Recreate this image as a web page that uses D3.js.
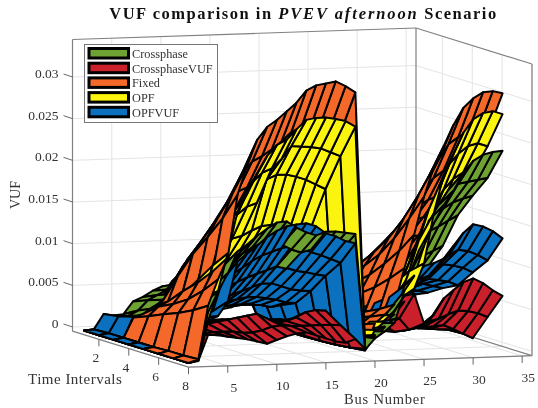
<!DOCTYPE html>
<html>
<head>
<meta charset="utf-8">
<style>
  html, body { margin: 0; padding: 0; background: #fff; }
  text { font-family: "Liberation Serif", serif; fill: #333; }
  svg { filter: blur(0.4px); }
</style>
</head>
<body>
<div id="chart"></div>
<script src="https://cdn.jsdelivr.net/npm/d3@7"></script>
<script>
var timeIntervals = [1, 2, 3, 4, 5, 6, 7, 8];
var busNumbers = [1, 2, 3, 4, 5, 6, 7, 8, 9, 10, 11, 12, 13, 14, 15, 16, 17, 18, 19, 20, 21, 22, 23, 24, 25, 26, 27, 28, 29, 30, 31, 32, 33];
var busTicks = [5, 10, 15, 20, 25, 30, 35];
var timeTicks = [2, 4, 6, 8];
var vufTicks = [0, 0.005, 0.01, 0.015, 0.02, 0.025, 0.03];
var vufTickLabels = ["0", "0.005", "0.01", "0.015", "0.02", "0.025", "0.03"];
var seriesNames = ["Crossphase", "CrossphaseVUF", "Fixed", "OPF", "OPFVUF"];
var seriesColors = ["#6ea232", "#c9202b", "#f4692a", "#fbf40f", "#0b70bd"];

// VUF x 10000, one row per bus, one column per time interval
var crossphase = [
  [0,0,0,0,0,0,0,0],[1,1,2,2,2,2,3,3],[12,14,18,22,28,36,46,60],[17,22,28,34,42,52,66,84],
  [18,28,36,42,52,66,84,106],[33,40,46,56,68,86,108,132],[38,46,52,60,74,92,115,140],[45,52,57,65,79,99,123,150],
  [50,58,62,70,85,105,130,158],[46,52,60,72,87,108,135,165],[44,50,58,70,88,110,137,166],[42,48,56,68,84,106,132,158],
  [40,46,54,66,80,100,126,152],[38,44,52,62,76,97,122,148],[38,44,52,62,78,100,125,152],[38,44,52,62,78,100,125,152],
  [38,42,50,60,76,98,123,150],[37,42,50,60,74,96,122,148],[1,1,2,2,3,4,6,9],[3,5,7,10,13,16,19,22],
  [4,6,9,13,18,22,25,30],[5,8,12,18,24,29,34,40],[6,8,10,14,20,30,50,78],[7,9,12,17,25,40,72,95],
  [8,10,14,20,30,50,90,131],[9,12,16,24,36,72,120,158],[10,14,18,28,49,96,155,179],[12,16,22,36,66,126,173,196],
  [14,18,28,66,108,155,191,217],[18,28,48,84,130,163,198,231],[22,38,62,95,135,170,200,238],[27,44,70,100,142,174,202,241],
  [30,50,75,106,148,177,204,242]
];
var crossphaseVuf = [
  [0,0,0,0,0,0,0,0],[1,1,1,2,2,2,2,2],[6,7,8,10,12,18,26,33],[8,9,11,13,16,24,28,32],
  [8,10,13,15,19,30,30,30],[8,10,14,17,21,34,30,28],[8,10,15,18,23,36,30,26],[8,10,16,19,26,38,28,23],
  [8,10,16,20,28,40,28,20],[8,10,17,21,30,42,30,24],[8,10,18,22,30,44,34,28],[8,10,18,22,28,38,35,31],
  [8,10,18,22,26,32,34,32],[8,10,18,21,26,34,34,28],[8,10,18,20,28,38,34,24],[8,10,18,20,30,44,34,20],
  [8,10,18,20,30,46,34,18],[8,10,18,20,28,45,33,22],[2,2,2,3,3,4,6,10],[4,5,6,7,9,12,18,25],
  [5,6,7,9,12,16,24,35],[6,7,8,10,14,20,32,54],[6,7,9,11,16,24,40,72],[6,7,9,12,17,25,39,74],
  [6,7,8,10,13,17,25,38],[6,7,8,10,13,18,28,48],[6,7,9,11,15,20,34,67],[6,7,9,11,15,22,37,77],
  [6,7,8,11,14,22,42,86],[6,7,8,11,13,23,46,90],[6,7,8,10,12,18,45,84],[5,6,7,9,11,12,42,75],
  [5,6,7,11,10,6,37,68]
];
var fixed = [
  [0,0,0,0,0,0,0,0],[1,1,2,2,2,3,3,4],[15,20,26,33,41,48,57,68],[12,18,30,44,53,64,80,99],
  [16,22,38,50,68,84,103,125],[20,28,45,80,112,138,166,200],[26,38,65,100,129,160,195,235],[32,50,85,115,146,180,220,265],
  [40,68,100,127,155,191,233,280],[56,78,104,130,158,196,239,288],[60,80,107,134,164,203,247,298],[60,83,111,139,169,209,256,308],
  [60,87,116,145,177,219,267,322],[60,89,118,148,180,223,272,328],[60,89,119,149,182,224,274,330],[60,90,120,149,183,226,276,332],
  [59,88,117,147,179,222,271,326],[57,86,114,143,175,216,264,318],[2,3,4,5,6,8,9,11],[8,11,14,18,22,27,33,40],
  [10,14,18,23,28,34,42,50],[12,17,22,28,34,42,51,62],[19,28,38,47,58,71,87,105],[26,39,52,65,80,99,120,145],
  [34,51,68,85,104,129,158,190],[40,61,81,101,124,153,187,225],[44,68,90,113,138,170,208,250],[48,74,99,124,151,187,228,275],
  [49,79,108,138,161,200,246,295],[53,83,110,138,168,208,254,306],[55,85,113,141,172,213,260,313],[55,85,113,141,173,214,261,314],
  [55,84,112,140,171,211,258,311]
];
var opf = [
  [0,0,0,0,0,0,0,0],[1,1,1,2,2,2,3,3],[5,8,13,19,25,33,42,50],[8,13,21,31,42,57,72,85],
  [12,20,33,48,65,87,110,130],[16,27,45,67,90,120,153,180],[18,30,50,74,100,134,171,201],[20,34,56,83,112,150,190,224],
  [22,37,61,90,122,164,208,245],[23,39,65,95,129,173,219,258],[20,40,66,98,132,177,224,264],[20,41,69,102,138,205,235,276],
  [18,43,72,106,143,210,250,287],[18,43,72,107,144,210,249,289],[20,43,72,107,144,207,248,289],[22,43,72,106,143,203,246,287],
  [26,42,71,105,142,197,241,284],[28,41,69,102,138,191,236,277],[1,2,3,4,5,7,8,10],[4,7,10,14,18,23,27,32],
  [5,9,13,18,24,30,36,42],[6,11,16,22,28,36,43,50],[6,9,13,20,28,38,50,65],[6,10,15,22,32,45,62,80],
  [8,12,18,30,50,75,95,110],[8,10,15,25,40,84,132,170],[10,13,20,32,60,114,168,215],[14,18,26,54,90,138,191,240],
  [18,25,36,84,119,167,221,265],[24,35,50,100,135,185,234,281],[30,45,65,112,150,198,243,288],[34,55,80,120,158,205,246,290],
  [35,60,89,122,160,205,242,286]
];
var opfVuf = [
  [0,0,0,0,0,0,0,0],[1,2,2,2,2,2,2,3],[19,22,27,30,35,40,45,50],[14,17,20,25,30,38,48,55],
  [14,16,20,25,32,42,55,72],[16,20,26,34,46,66,92,120],[18,22,28,37,50,72,99,129],[19,23,30,40,54,77,106,138],
  [20,25,32,43,58,83,114,148],[21,26,33,45,62,88,120,155],[22,27,35,48,66,92,124,160],[23,28,36,50,70,96,128,162],
  [24,29,37,52,74,100,130,163],[26,30,38,52,74,98,128,159],[28,30,38,50,70,94,122,150],[30,31,36,48,66,92,118,146],
  [30,31,33,44,64,89,113,140],[30,31,35,43,63,87,108,137],[1,1,2,2,3,4,6,8],[5,6,8,10,12,16,20,26],
  [7,9,12,14,17,22,28,36],[9,12,14,18,21,28,35,45],[17,22,27,34,40,52,65,84],[19,25,31,38,45,60,74,96],
  [21,28,34,43,50,66,82,107],[22,29,35,44,52,68,85,110],[23,30,37,46,54,71,89,115],[26,34,42,52,61,81,100,130],
  [29,38,46,58,68,90,112,145],[31,40,50,62,73,96,119,155],[30,40,49,61,71,94,117,152],[29,38,47,58,69,91,112,146],
  [28,36,44,55,64,85,105,137]
];
var seriesValues = [crossphase, crossphaseVuf, fixed, opf, opfVuf];

var width = 538, height = 408;
var busMax = 36, timeMin = 0.23, timeMax = 8, vufMin = -0.0005, vufMax = 0.0345;

var svg = d3.select("#chart").append("svg")
    .attr("width", width)
    .attr("height", height)
    .style("display", "block");

// oblique 3D view built out of plain linear scales
var xBus = d3.scaleLinear().domain([1, busMax]).range([0, 343.5]);
var yBus = d3.scaleLinear().domain([1, busMax]).range([0, -11.5]);
var xTime = d3.scaleLinear().domain([timeMin, timeMax]).range([72.5, 188.5]);
var yTime = d3.scaleLinear().domain([timeMin, timeMax]).range([0, 36]);
var yVuf = d3.scaleLinear().domain([0, 0.03]).range([327, 77]);

function project(bus, time, vuf) {
    return [xTime(time) + xBus(bus), yTime(time) + yBus(bus) + yVuf(vuf)];
}
var line = d3.line();
function seg(a, b) { return line([a, b]); }

// grid on the floor and the two walls
var gridLines = [];
busTicks.forEach(function(b) {
    gridLines.push([project(b, timeMin, vufMin), project(b, timeMin, vufMax)]);
    gridLines.push([project(b, timeMin, vufMin), project(b, timeMax, vufMin)]);
});
timeTicks.forEach(function(t) {
    gridLines.push([project(busMax, t, vufMin), project(busMax, t, vufMax)]);
    gridLines.push([project(1, t, vufMin), project(busMax, t, vufMin)]);
});
vufTicks.forEach(function(v) {
    gridLines.push([project(1, timeMin, v), project(busMax, timeMin, v)]);
    gridLines.push([project(busMax, timeMin, v), project(busMax, timeMax, v)]);
});
svg.append("g").selectAll("path").data(gridLines).join("path")
    .attr("d", line)
    .attr("fill", "none")
    .attr("stroke", "#e4e4e4")
    .attr("stroke-width", 1);

// box edges
var boxEdges = [
    [project(1, timeMin, vufMin), project(1, timeMin, vufMax)],
    [project(1, timeMin, vufMax), project(busMax, timeMin, vufMax)],
    [project(busMax, timeMin, vufMax), project(busMax, timeMax, vufMax)],
    [project(busMax, timeMax, vufMax), project(busMax, timeMax, vufMin)],
    [project(busMax, timeMin, vufMin), project(busMax, timeMin, vufMax)],
    [project(1, timeMin, vufMin), project(1, timeMax, vufMin)],
    [project(1, timeMax, vufMin), project(busMax, timeMax, vufMin)],
    [project(busMax, timeMin, vufMin), project(busMax, timeMax, vufMin)]
];
svg.append("g").selectAll("path").data(boxEdges).join("path")
    .attr("d", line)
    .attr("fill", "none")
    .attr("stroke", "#808080")
    .attr("stroke-width", 1.2);

// ticks and their labels
var tickG = svg.append("g");
vufTicks.forEach(function(v, i) {
    var p = project(1, timeMin, v);
    tickG.append("path").attr("d", seg(p, [p[0] - 9, p[1] - 3])).attr("stroke", "#666").attr("fill", "none");
    tickG.append("text").attr("x", p[0] - 14).attr("y", p[1] + 1)
        .attr("text-anchor", "end").style("font-size", "13.5px").text(vufTickLabels[i]);
});
timeTicks.forEach(function(t) {
    var p = project(1, t, vufMin);
    tickG.append("path").attr("d", seg(p, [p[0], p[1] + 7])).attr("stroke", "#666").attr("fill", "none");
    tickG.append("text").attr("x", p[0] - 3).attr("y", p[1] + 23)
        .attr("text-anchor", "middle").style("font-size", "13.5px").text(t);
});
busTicks.forEach(function(b) {
    var p = project(b, timeMax, vufMin);
    tickG.append("path").attr("d", seg(p, [p[0], p[1] + 7])).attr("stroke", "#666").attr("fill", "none");
    tickG.append("text").attr("x", p[0] + 6).attr("y", p[1] + 26)
        .attr("text-anchor", "middle").style("font-size", "13.5px").text(b);
});

// one quad per mesh cell, back to front
var quads = [];
seriesValues.forEach(function(values, s) {
    for (var i = 0; i < busNumbers.length - 1; i++) {
        for (var j = 0; j < timeIntervals.length - 1; j++) {
            var mean = (values[i][j] + values[i + 1][j] + values[i][j + 1] + values[i + 1][j + 1]) / 4;
            quads.push({
                series: s, bus: i, time: j, mean: mean,
                pts: [
                    project(busNumbers[i], timeIntervals[j], values[i][j] / 1e4),
                    project(busNumbers[i + 1], timeIntervals[j], values[i + 1][j] / 1e4),
                    project(busNumbers[i + 1], timeIntervals[j + 1], values[i + 1][j + 1] / 1e4),
                    project(busNumbers[i], timeIntervals[j + 1], values[i][j + 1] / 1e4)
                ]
            });
        }
    }
});
quads.sort(function(a, b) {
    if (a.time != b.time) return a.time - b.time;
    if (a.bus != b.bus) return b.bus - a.bus;
    // the steep first buses show the highest surface, the rest show the lowest
    return a.bus <= 5 ? a.mean - b.mean : b.mean - a.mean;
});
svg.append("g").selectAll("path").data(quads).join("path")
    .attr("d", function(d) { return line(d.pts) + "Z"; })
    .attr("fill", function(d) { return seriesColors[d.series]; })
    .attr("stroke", "#000")
    .attr("stroke-width", 2)
    .attr("stroke-linejoin", "round");

// legend
var legend = svg.append("g");
legend.append("rect").attr("x", 84.5).attr("y", 44.5).attr("width", 133).attr("height", 78)
    .attr("fill", "#fff").attr("stroke", "#777");
seriesNames.forEach(function(name, i) {
    var y = 47.5 + i * 14.7;
    legend.append("rect").attr("x", 89).attr("y", y + 1).attr("width", 39.5).attr("height", 9.5)
        .attr("fill", seriesColors[i]).attr("stroke", "#000").attr("stroke-width", 3);
    legend.append("text").attr("x", 132).attr("y", y + 10.5).style("font-size", "12.3px").text(name);
});

// titles
var title = svg.append("text").attr("x", 303.5).attr("y", 19).attr("text-anchor", "middle")
    .style("font-size", "16.5px").style("font-weight", "bold").style("letter-spacing", "1.5px")
    .style("fill", "#111");
title.append("tspan").text("VUF comparison in ");
title.append("tspan").style("font-style", "italic").style("letter-spacing", "1.9px").text("PVEV afternoon");
title.append("tspan").text(" Scenario");

svg.append("text").attr("transform", "translate(20,195) rotate(-90)").attr("text-anchor", "middle")
    .style("font-size", "14px").text("VUF");
svg.append("text").attr("x", 28).attr("y", 384).style("font-size", "15px").style("letter-spacing", "0.5px")
    .text("Time Intervals");
svg.append("text").attr("x", 344).attr("y", 404).style("font-size", "14.5px").style("letter-spacing", "0.8px")
    .text("Bus Number");
</script>
</body>
</html>
